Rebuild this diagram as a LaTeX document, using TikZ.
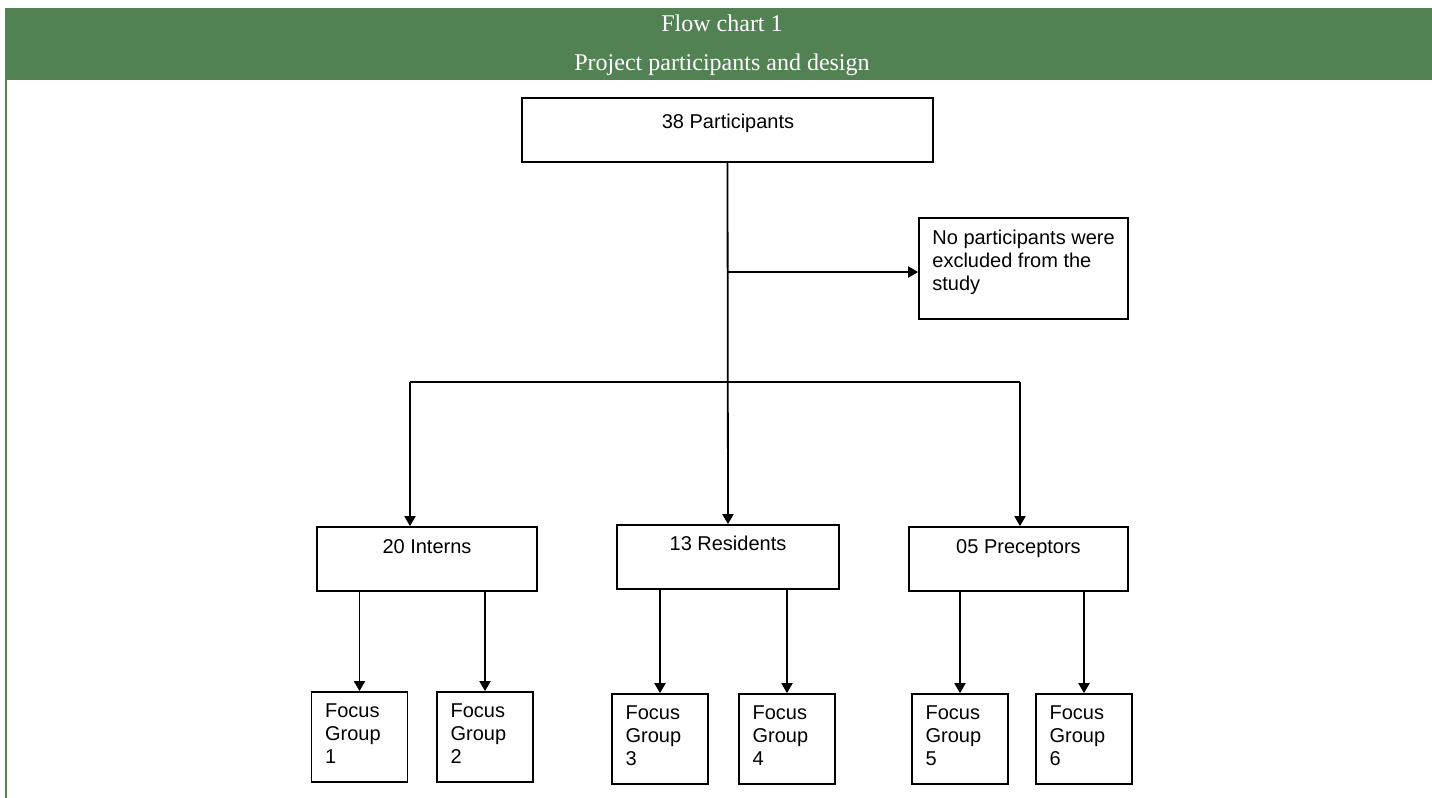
\documentclass[tikz,border=0pt]{standalone}
\usepackage{fontspec}
\setmainfont{Liberation Sans}
\newfontfamily\titlefont{Liberation Serif}
\usetikzlibrary{arrows.meta}
\definecolor{bandgreen}{RGB}{82,130,83}
\begin{document}
\begin{tikzpicture}[x=0.5pt,y=-0.5pt,
  boxn/.style={draw=black, line width=0.85pt, inner sep=0pt, fill=white},
  fbox/.style={boxn, minimum width=48pt, minimum height=45pt},
  txt/.style={inner sep=0pt, font=\fontsize{10pt}{11.5pt}\selectfont},
  ttl/.style={inner sep=0pt, text=white, font=\titlefont\fontsize{12pt}{14pt}\selectfont},
  conn/.style={line width=0.9pt},
  arr/.style={conn, -{Triangle[length=5pt,width=5.5pt]}}]
\useasboundingbox (0,0) rectangle (1432,798);
% header band
\fill[bandgreen] (5,8) rectangle (1432,80);
\draw[bandgreen, line width=1pt] (6,80) -- (6,798);
\node[ttl, anchor=base] (t1) at (722,31) {Flow chart 1};
\node[ttl, anchor=base] (t2) at (722,70) {Project participants and design};
% boxes
\node[boxn, minimum width=205.5pt, minimum height=32pt] (top) at (727.5,130) {};
\node[boxn, minimum width=104.5pt, minimum height=50.5pt] (excl) at (1023.5,268.5) {};
\node[boxn, minimum width=110pt, minimum height=32pt] (int) at (427,559) {};
\node[boxn, minimum width=111pt, minimum height=32pt] (res) at (728,557) {};
\node[boxn, minimum width=109.5pt, minimum height=32pt] (pre) at (1018.5,559) {};
\node[fbox] (f1) at (359.5,737) {};
\node[fbox] (f2) at (485,737) {};
\node[fbox] (f3) at (660,739) {};
\node[fbox] (f4) at (787,739) {};
\node[fbox] (f5) at (960,739) {};
\node[fbox] (f6) at (1084,739) {};
% texts
\node[txt, anchor=base] (ttop) at (728,128) {38 Participants};
\node[txt, anchor=north west, align=left] (texcl) at (932,230) {No participants were\\excluded from the\\study};
\node[txt, anchor=base] (tint) at (427,553) {20 Interns};
\node[txt, anchor=base] (tres) at (728,550) {13 Residents};
\node[txt, anchor=base] (tpre) at (1018.5,553) {05 Preceptors};
\foreach \f/\n in {f1/1,f2/2,f3/3,f4/4,f5/5,f6/6}{
  \node[txt, anchor=north west, align=left] (t\f) at ([xshift=7pt,yshift=-6pt]\f.north west) {Focus\\Group\\\n};
}
% connectors
\coordinate (br) at (728,272);
\coordinate (hl) at (410,382);
\coordinate (hr) at (1020,382);
\draw[arr] (top.south) -- (res.north);
\draw[arr] (br) -- (br -| excl.west);
\draw[conn] (hl) -- (hr);
\draw[arr] (hl) -- (hl |- int.north);
\draw[arr] (hr) -- (hr |- pre.north);
\draw[arr] (f1.north |- int.south) -- (f1.north);
\draw[arr] (f2.north |- int.south) -- (f2.north);
\draw[arr] (f3.north |- res.south) -- (f3.north);
\draw[arr] (f4.north |- res.south) -- (f4.north);
\draw[arr] (f5.north |- pre.south) -- (f5.north);
\draw[arr] (f6.north |- pre.south) -- (f6.north);
\end{tikzpicture}
\end{document}
